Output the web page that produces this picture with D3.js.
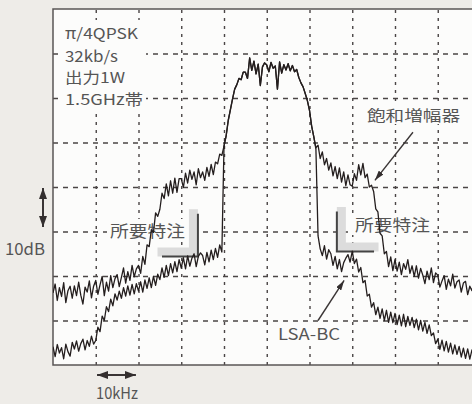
<!DOCTYPE html>
<html>
<head>
<meta charset="utf-8">
<script src="https://cdn.jsdelivr.net/npm/d3@7"></script>
<style>
  body { margin: 0; background: #eeece8; }
  svg { display: block; }
</style>
</head>
<body>
<svg id="chart"></svg>
<script>
// spectrum traces, dB per 0.5 kHz bin, one row = 5 kHz
var binStep = 0.5;

// saturated amplifier, -50 .. -10.5 kHz
var satLeft = [
  [-63.8,-61.8,-65.5,-62.6,-64.6,-61.5,-66.0,-63.3,-62.3,-65.0],
  [-62.2,-64.4,-61.4,-64.3,-66.3,-62.5,-63.6,-61.1,-64.9,-62.3],
  [-61.0,-64.1,-62.0,-60.1,-64.4,-61.4,-63.4,-59.9,-62.6,-60.6],
  [-59.7,-62.4,-60.3,-58.2,-61.6,-59.0,-61.0,-57.6,-60.2,-58.4],
  [-57.6,-59.4,-55.6,-57.4,-53.0,-53.4,-49.6,-50.2,-45.8,-46.6],
  [-45.0,-41.4,-42.6,-39.3,-42.0,-38.6,-41.4,-38.0,-41.2,-38.1],
  [-38.1,-40.1,-36.9,-39.1,-36.2,-38.3,-36.6,-39.5,-35.9,-37.9],
  [-36.6,-38.5,-35.6,-37.6,-34.9,-37.2,-34.4,-34.8,-32.6,-32.9]
];
// main lobe, common to both traces, -10 .. 9.5 kHz
var mainLobe = [
  [-30.8,-28.5,-25.0,-22.6,-20.2,-18.0,-17.0,-15.6,-15.9,-14.2],
  [-14.2,-15.6,-11.0,-13.8,-11.7,-14.6,-12.4,-17.2,-13.0,-12.1],
  [-12.6,-14.1,-12.0,-13.3,-12.8,-18.0,-11.9,-14.4,-12.5,-13.7],
  [-12.3,-13.9,-12.7,-14.1,-13.6,-15.4,-16.6,-17.5,-19.0,-20.6]
];
// saturated amplifier, 10 .. 49.5 kHz
var satRight = [
  [-22.8,-26.3,-28.7,-31.2,-30.6,-33.6,-32.1,-35.0,-33.6,-36.2],
  [-34.6,-37.5,-35.4,-38.1,-35.7,-38.9,-36.6,-39.7,-37.3,-39.5],
  [-39.8,-37.0,-38.5,-35.0,-37.3,-34.7,-37.9,-37.1,-40.0,-39.6],
  [-41.0,-44.9,-45.6,-50.4,-51.0,-55.0,-54.5,-57.9,-55.7,-58.8],
  [-56.3,-58.9,-56.9,-59.7,-57.2,-58.5,-56.3,-59.4,-57.7,-60.1],
  [-57.7,-60.5,-58.3,-59.8,-61.7,-58.9,-60.8,-58.2,-61.5,-59.3],
  [-59.8,-62.5,-61.1,-59.9,-63.0,-60.7,-62.2,-59.6,-62.7,-61.3],
  [-60.9,-63.6,-61.6,-61.2,-64.2,-62.3,-63.3,-61.4,-64.5,-62.6]
];
// LSA-BC, -50 .. -10.5 kHz
var lsaLeft = [
  [-75.9,-78.1,-75.4,-77.3,-76.1,-78.6,-75.3,-77.0,-78.0,-74.9],
  [-76.4,-74.6,-76.9,-75.2,-74.2,-76.6,-74.5,-75.8,-73.5,-75.3],
  [-74.5,-71.5,-72.5,-69.0,-70.0,-66.9,-68.0,-65.2,-66.7,-64.0],
  [-65.4,-63.4,-65.0,-62.6,-64.5,-62.2,-64.3,-61.9,-64.0,-61.7],
  [-63.4,-61.3,-63.6,-60.9,-62.8,-60.4,-62.6,-60.1,-62.1,-59.6],
  [-60.8,-58.2,-60.3,-57.6,-59.9,-57.2,-59.3,-56.8,-59.0,-56.3],
  [-58.2,-55.9,-58.4,-55.5,-57.8,-56.0,-55.0,-57.9,-55.6,-54.8],
  [-55.4,-57.5,-54.7,-56.8,-54.2,-56.3,-53.8,-55.8,-53.0,-54.6]
];
// LSA-BC, 10 .. 49.5 kHz
var lsaRight = [
  [-22.8,-26.3,-28.7,-31.5,-51.0,-53.9,-55.4,-53.2,-56.2,-54.1],
  [-55.0,-57.6,-55.6,-58.4,-56.3,-59.0,-57.0,-56.0,-55.2,-56.9],
  [-54.4,-57.2,-56.2,-59.1,-58.1,-61.5,-61.0,-64.5,-64.1,-67.0],
  [-66.0,-68.7,-67.0,-69.5,-67.4,-70.0,-67.7,-70.4,-68.1,-70.5],
  [-68.4,-70.9,-68.8,-71.2,-68.6,-71.4,-69.1,-71.1,-69.3,-71.6],
  [-69.7,-72.1,-70.0,-72.4,-70.4,-72.9,-71.0,-73.4,-72.8,-75.2],
  [-74.2,-76.5,-74.4,-76.8,-74.7,-77.1,-75.1,-77.5,-75.5,-77.6],
  [-75.8,-78.2,-76.2,-78.5,-76.4,-78.7,-76.6,-78.6,-76.8,-78.9]
];

// required spectrum mask corners [kHz, dB]
var maskLeft = [[-24.5, -55.6], [-16.1, -55.6], [-16.1, -46.0]];
var maskRight = [[16.4, -45.5], [16.4, -54.5], [25.1, -54.5]];

var xGrid = [-40, -30, -20, -10, 0, 10, 20, 30, 40];
var yGrid = [-70, -60, -50, -40, -30, -20, -10];

var infoLines = ["π/4QPSK", "32kb/s", "出力1W", "1.5GHz帯"];

var W = 472, H = 404;
var pL = 53, pT = 9, pR = 480.5, pB = 365;

var svg = d3.select("#chart").attr("width", W).attr("height", H);

var x = d3.scaleLinear().domain([-50, 50]).range([pL, pR]);
var y = d3.scaleLinear().domain([-80, 0]).range([pB, pT]);

function toPoints(rows, startKHz) {
  var pts = [];
  rows.forEach(function(r, i) {
    r.forEach(function(v, j) {
      pts.push([startKHz + i * 5 + j * binStep, v]);
    });
  });
  return pts;
}

var satTrace = toPoints(satLeft, -50).concat(toPoints(mainLobe, -10), toPoints(satRight, 10));
var lsaTrace = toPoints(lsaLeft, -50).concat(toPoints(mainLobe, -10), toPoints(lsaRight, 10));

var defs = svg.append("defs");
defs.append("clipPath").attr("id", "plot")
  .append("rect").attr("x", pL).attr("y", pT)
  .attr("width", pR - pL).attr("height", pB - pT);

function marker(id, len, wid) {
  defs.append("marker")
    .attr("id", id)
    .attr("viewBox", "0 0 " + len + " " + wid)
    .attr("refX", len).attr("refY", wid / 2)
    .attr("markerWidth", len).attr("markerHeight", wid)
    .attr("markerUnits", "userSpaceOnUse")
    .attr("orient", "auto-start-reverse")
    .append("path").attr("d", "M0,0L" + len + "," + (wid / 2) + "L0," + wid + "z")
    .attr("fill", "#332e2e");
}
marker("head", 10, 6);
marker("bighead", 11, 8);

// plot face
svg.append("rect")
  .attr("x", pL).attr("y", pT)
  .attr("width", pR - pL).attr("height", pB - pT)
  .attr("fill", "#fcfcfb");

// grid
svg.append("g")
  .attr("transform", "translate(0," + pB + ")")
  .call(d3.axisBottom(x).tickValues(xGrid).tickSize(-(pB - pT)).tickFormat(""))
  .call(function(g) { g.select(".domain").remove(); })
  .selectAll("line")
  .attr("stroke", "#4a4545").attr("stroke-width", 1.4)
  .attr("stroke-dasharray", "3,5");

svg.append("g")
  .attr("transform", "translate(" + pL + ",0)")
  .call(d3.axisLeft(y).tickValues(yGrid).tickSize(-(pR - pL)).tickFormat(""))
  .call(function(g) { g.select(".domain").remove(); })
  .selectAll("line")
  .attr("stroke", "#4a4545").attr("stroke-width", 1.4)
  .attr("stroke-dasharray", "5,5");

// frame
svg.append("path")
  .attr("d", "M" + pR + "," + pT + "H" + pL + "V" + pB + "H" + pR)
  .attr("fill", "none").attr("stroke", "#5a5555").attr("stroke-width", 1.5);

// labels
function label(txt, px, py, len, size, fill) {
  var g = svg.append("g");
  g.append("text")
    .attr("x", px).attr("y", py)
    .attr("font-family", "'Noto Sans CJK JP', 'Noto Sans', sans-serif")
    .attr("font-size", size)
    .attr("fill", fill || "#555")
    .attr("textLength", len).attr("lengthAdjust", "spacingAndGlyphs")
    .text(txt);
  return g;
}

svg.append("rect").attr("x", 58).attr("y", 20).attr("width", 88).attr("height", 90).attr("fill", "#fcfcfb");
var infoY = [39, 62, 83, 105], infoLen = [73, 53, 60, 78];
infoLines.forEach(function(s, i) { label(s, 65, infoY[i], infoLen[i], 15); });

// white backing so the grid stops at the text
function boxedLabel(txt, px, py, len, size) {
  var g = label(txt, px, py, len, size);
  var b = g.select("text").node().getBBox();
  g.insert("rect", "text")
    .attr("x", b.x - 3).attr("y", b.y + 1)
    .attr("width", b.width + 6).attr("height", b.height - 2)
    .attr("fill", "#fcfcfb");
}

// mask brackets with grey shadow
function mask(pts, dx) {
  var line = d3.line().x(function(d) { return x(d[0]); }).y(function(d) { return y(d[1]); });
  svg.append("path").attr("d", line(pts))
    .attr("transform", "translate(" + dx + ",-4.5)")
    .attr("fill", "none").attr("stroke", "#dcdcdc").attr("stroke-width", 9);
  svg.append("path").attr("d", line(pts))
    .attr("fill", "none").attr("stroke", "#444").attr("stroke-width", 2);
}

boxedLabel("所要特注", 110, 237, 75, 16);
boxedLabel("所要特注", 355, 231, 75, 16);
boxedLabel("飽和増幅器", 367, 121, 93, 15);
boxedLabel("LSA-BC", 278, 340, 62, 16);

mask(maskLeft, -4.5);
mask(maskRight, 4.5);

// traces
var trace = d3.line()
  .x(function(d) { return x(d[0]); })
  .y(function(d) { return y(d[1]); });

var traces = svg.append("g").attr("clip-path", "url(#plot)");
[satTrace, lsaTrace].forEach(function(t) {
  traces.append("path")
    .attr("d", trace(t))
    .attr("fill", "none")
    .attr("stroke", "#241e1e")
    .attr("stroke-width", 1.3)
    .attr("stroke-linejoin", "round");
});

// pointer arrows
function arrow(p0, p1, both) {
  var a = svg.append("line")
    .attr("x1", p0[0]).attr("y1", p0[1])
    .attr("x2", p1[0]).attr("y2", p1[1])
    .attr("stroke", "#3a3535").attr("stroke-width", 1.4)
    .attr("marker-end", "url(#head)");
  if (both) {
    a.attr("marker-start", "url(#bighead)").attr("marker-end", "url(#bighead)")
      .attr("stroke-width", 2);
  }
}
arrow([x(34.2), y(-27.7)], [x(25.3), y(-38.5)]);
arrow([x(12.0), y(-70.0)], [x(18.1), y(-61.0)]);

// scale markers: one division = 10 dB, 10 kHz
arrow([43, y(-40.2)], [43, y(-49.0)], true);
label("10dB", 5, 255, 40, 16);
arrow([x(-39.7), 375], [x(-30.6), 375], true);
label("10kHz", 96, 399, 42, 16);
</script>
</body>
</html>
